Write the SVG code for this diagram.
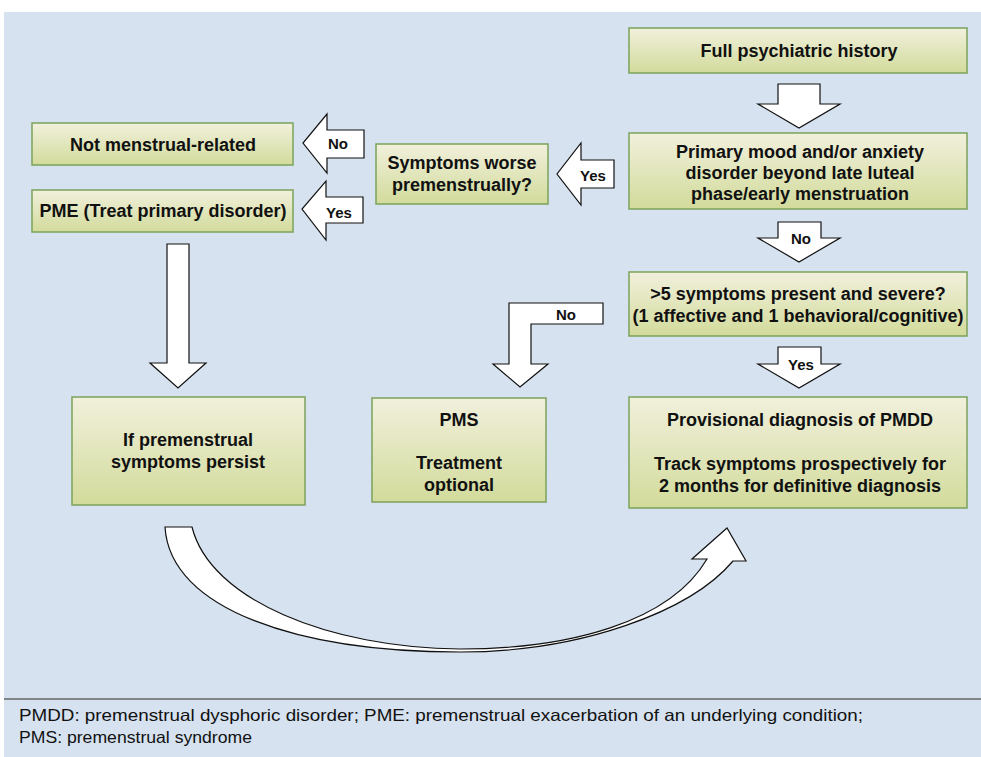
<svg xmlns="http://www.w3.org/2000/svg" width="981" height="757" viewBox="0 0 981 757">
<defs>
<linearGradient id="boxg" x1="0" y1="0" x2="0" y2="1">
<stop offset="0" stop-color="#f1f0dc"/>
<stop offset="1" stop-color="#d2db9b"/>
</linearGradient>
<style>
.box{fill:url(#boxg);stroke:#7ba35b;stroke-width:1.5}
.t{font-family:"Liberation Sans",Arial,sans-serif;font-weight:bold;font-size:18px;fill:#111;text-anchor:middle}
.l{font-family:"Liberation Sans",Arial,sans-serif;font-weight:bold;font-size:15px;fill:#111;text-anchor:middle}
.arr{fill:#fff;stroke:#111;stroke-width:1.2;stroke-linejoin:miter}
.foot{font-family:"Liberation Sans",Arial,sans-serif;font-size:16.5px;fill:#111}
</style>
</defs>
<rect x="0" y="0" width="981" height="757" fill="#fff"/>
<rect x="4" y="12" width="977" height="745" fill="#d6e2ef"/>
<line x1="4" y1="699" x2="981" y2="699" stroke="#666" stroke-width="1.5"/>

<g id="connectors">
<path class="arr" d="M778,84 H820 V104 H840 L799,128 L758,104 H778 Z"/>
<path class="arr" d="M614,160 V188 H581 V205 L557,174 L581,143 V160 Z"/>
<path class="arr" d="M364,130 V158 H327 V173 L303,143 L327,114 V130 Z"/>
<path class="arr" d="M363,197 V223 H326 V240 L302,209 L326,181 V197 Z"/>
<path class="arr" d="M778,222 H821 V238 H840 L799,262 L758,238 H778 Z"/>
<path class="arr" d="M778,347 H821 V364 H840 L799,388 L758,364 H778 Z"/>
<path class="arr" d="M603,303 V324 H531 V364 H548 L520,387 L493,364 H509 V303 Z"/>
<path class="arr" d="M167,244 H189 V363 H206 L178,388 L150,363 H167 Z"/>
<path class="arr" d="M165,527 H192 C210,600 330,648 460,649 C570,649 670,622 707,559 H692 L727,528 L746,561 H733 C690,612 580,652 460,652 C300,652 170,610 165,527 Z"/>
<text class="l" x="338" y="149">No</text>
<text class="l" x="339" y="218">Yes</text>
<text class="l" x="593" y="181">Yes</text>
<text class="l" x="801" y="244">No</text>
<text class="l" x="801" y="370">Yes</text>
<text class="l" x="566" y="320">No</text>
</g>

<g id="n_full"><rect class="box" x="629" y="28" width="338" height="45"/><text class="t" x="799" y="57">Full psychiatric history</text></g>
<g id="n_primary"><rect class="box" x="629" y="133" width="338" height="76"/>
<text class="t" x="800" y="158">Primary mood and/or anxiety</text>
<text class="t" x="800" y="179">disorder beyond late luteal</text>
<text class="t" x="800" y="200">phase/early menstruation</text></g>
<g id="n_worse"><rect class="box" x="376" y="144" width="172" height="60"/>
<text class="t" x="462" y="169">Symptoms worse</text>
<text class="t" x="462" y="191">premenstrually?</text></g>
<g id="n_notmens"><rect class="box" x="32" y="123" width="261" height="42"/><text class="t" x="163" y="151">Not menstrual-related</text></g>
<g id="n_pme"><rect class="box" x="32" y="190" width="261" height="42"/><text class="t" x="163" y="217">PME (Treat primary disorder)</text></g>
<g id="n_five"><rect class="box" x="629" y="272" width="338" height="64"/>
<text class="t" x="798" y="300">&gt;5 symptoms present and severe?</text>
<text class="t" x="798" y="322">(1 affective and 1 behavioral/cognitive)</text></g>
<g id="n_persist"><rect class="box" x="72" y="397" width="233" height="108"/>
<text class="t" x="188" y="446">If premenstrual</text>
<text class="t" x="188" y="468">symptoms persist</text></g>
<g id="n_pms"><rect class="box" x="372" y="398" width="174" height="104"/>
<text class="t" x="459" y="426">PMS</text>
<text class="t" x="459" y="469">Treatment</text>
<text class="t" x="459" y="491">optional</text></g>
<g id="n_pmdd"><rect class="box" x="629" y="397" width="338" height="111"/>
<text class="t" x="800" y="426">Provisional diagnosis of PMDD</text>
<text class="t" x="800" y="470">Track symptoms prospectively for</text>
<text class="t" x="800" y="492">2 months for definitive diagnosis</text></g>

<text class="foot" x="19" y="721" textLength="844" lengthAdjust="spacingAndGlyphs">PMDD: premenstrual dysphoric disorder; PME: premenstrual exacerbation of an underlying condition;</text>
<text class="foot" x="19" y="743" textLength="233" lengthAdjust="spacingAndGlyphs">PMS: premenstrual syndrome</text>
</svg>
